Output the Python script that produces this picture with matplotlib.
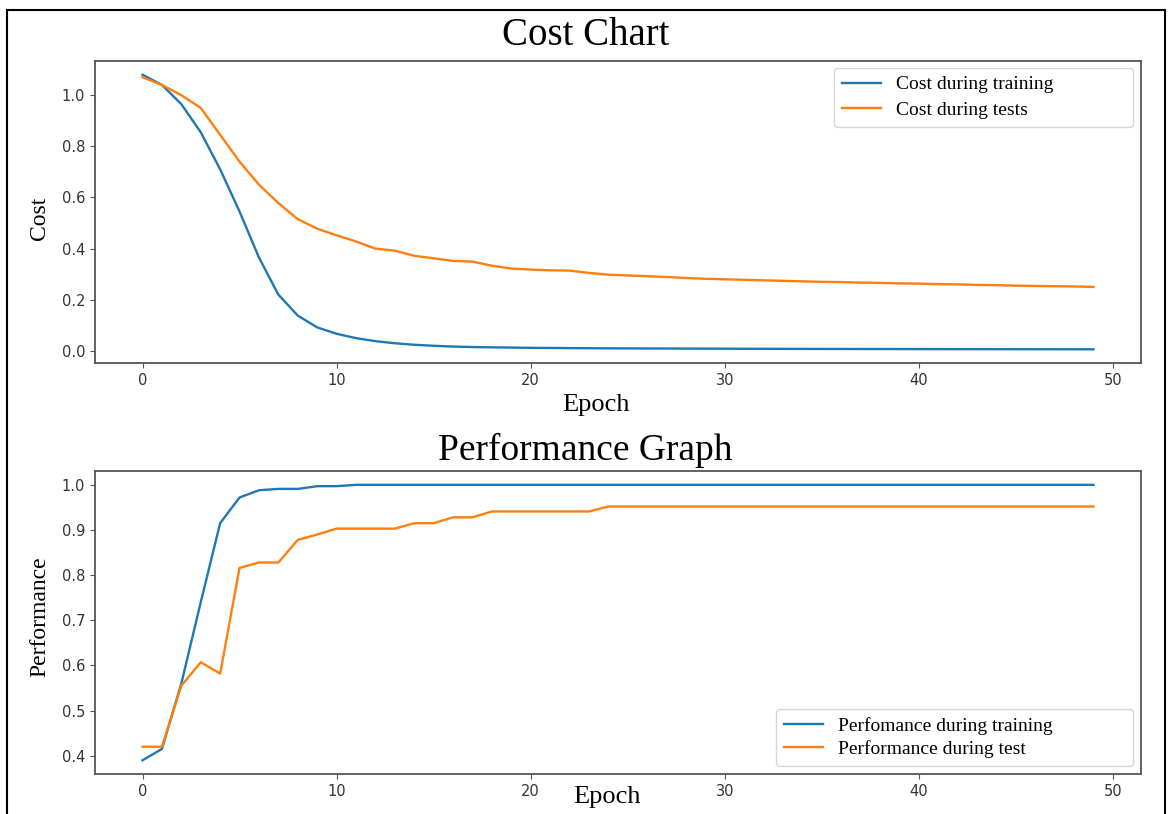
import matplotlib
matplotlib.use('Agg')  # no display
import matplotlib.pyplot as plt
from matplotlib.patches import Rectangle

# epochs 0..49
epochs = list(range(50))

# cost during training / tests
cost_train = [1.08, 1.04, 0.965, 0.855, 0.71, 0.545, 0.365, 0.22, 0.138, 0.092,
              0.067, 0.05, 0.038, 0.030, 0.024, 0.020, 0.017, 0.015, 0.014, 0.013,
              0.012, 0.0115, 0.011, 0.0105, 0.010, 0.0098, 0.0095, 0.0093, 0.009, 0.0088,
              0.0086, 0.0084, 0.0082, 0.008, 0.0078, 0.0077, 0.0076, 0.0074, 0.0073, 0.0072,
              0.0071, 0.007, 0.0069, 0.0068, 0.0067, 0.0066, 0.0065, 0.0064, 0.0063, 0.0062]
cost_test = [1.07, 1.04, 1.00, 0.95, 0.845, 0.74, 0.65, 0.578, 0.515, 0.478,
             0.452, 0.428, 0.40, 0.392, 0.372, 0.362, 0.352, 0.349, 0.333, 0.322,
             0.318, 0.315, 0.314, 0.305, 0.298, 0.295, 0.292, 0.289, 0.285, 0.282,
             0.280, 0.278, 0.276, 0.274, 0.272, 0.270, 0.269, 0.267, 0.266, 0.264,
             0.263, 0.261, 0.260, 0.258, 0.257, 0.255, 0.254, 0.253, 0.252, 0.250]

# performance during training / test
perf_train = [0.39, 0.415, 0.56, 0.74, 0.915, 0.972, 0.988, 0.991, 0.991, 0.997,
              0.997] + [1.0] * 39
perf_test = [0.42, 0.42, 0.555, 0.607, 0.582, 0.816, 0.828, 0.828, 0.878, 0.890,
             0.903, 0.903, 0.903, 0.903, 0.915, 0.915, 0.928, 0.928, 0.941, 0.941,
             0.941, 0.941, 0.941, 0.941] + [0.952] * 26

xticks = [0, 10, 20, 30, 40, 50]

serif = ['Liberation Serif', 'DejaVu Serif']

fig = plt.figure(figsize=(11.71, 8.14), dpi=100)

# outer frame of the screenshot (open at the bottom)
fig.add_artist(Rectangle((7 / 1171, -0.1), 1158 / 1171, 1.1 - 10 / 814,
                         transform=fig.transFigure, fill=False,
                         edgecolor='black', linewidth=1.5, clip_on=False))


def style_axes(ax):
    for s in ax.spines.values():
        s.set_color('#555555')
        s.set_linewidth(1.3)
    ax.tick_params(labelsize=10.5, labelcolor='#333333', color='#555555')
    ax.set_xticks(xticks)


# 1. cost chart
ax1 = fig.add_axes([0.0811, 0.554, 0.8933, 0.3711])
ax1.plot(epochs, cost_train, color='#1f77b4', linewidth=1.7, label='Cost during training')
ax1.plot(epochs, cost_test, color='#ff7f0e', linewidth=1.7, label='Cost during tests')
style_axes(ax1)
ax1.set_yticks([0.0, 0.2, 0.4, 0.6, 0.8, 1.0])
# legend box is wider than its text in the screenshot
ax1.legend(loc='upper left', bbox_to_anchor=(0.7065, 0, 0.2855, 0.9768), mode='expand',
           borderaxespad=0, prop={'family': serif, 'size': 14}, labelspacing=0.4)

# 2. performance graph
ax2 = fig.add_axes([0.0811, 0.0491, 0.8933, 0.3722])
ax2.plot(epochs, perf_train, color='#1f77b4', linewidth=1.7, label='Perfomance during training')
ax2.plot(epochs, perf_test, color='#ff7f0e', linewidth=1.7, label='Performance during test')
style_axes(ax2)
ax2.set_yticks([0.4, 0.5, 0.6, 0.7, 0.8, 0.9, 1.0])
ax2.legend(loc='lower left', bbox_to_anchor=(0.651, 0.0264, 0.341, 0.5), mode='expand',
           borderaxespad=0, prop={'family': serif, 'size': 14}, labelspacing=0.3)

# titles and axis labels placed like in the screenshot
fig.text(0.5, 0.9447, 'Cost Chart', family=serif, fontsize=28, ha='center', va='baseline')
fig.text(0.5, 0.4349, 'Performance Graph', family=serif, fontsize=27, ha='center', va='baseline')
fig.text(0.509, 0.5025, 'Epoch', family=serif, fontsize=19, ha='center', va='center')
fig.text(0.518, 0.021, 'Epoch', family=serif, fontsize=19, ha='center', va='center')
fig.text(0.034, 0.732, 'Cost', family=serif, fontsize=17, ha='center', va='center', rotation=90)
fig.text(0.034, 0.242, 'Performance', family=serif, fontsize=17, ha='center', va='center', rotation=90)

plt.savefig('out.png', dpi=100)
